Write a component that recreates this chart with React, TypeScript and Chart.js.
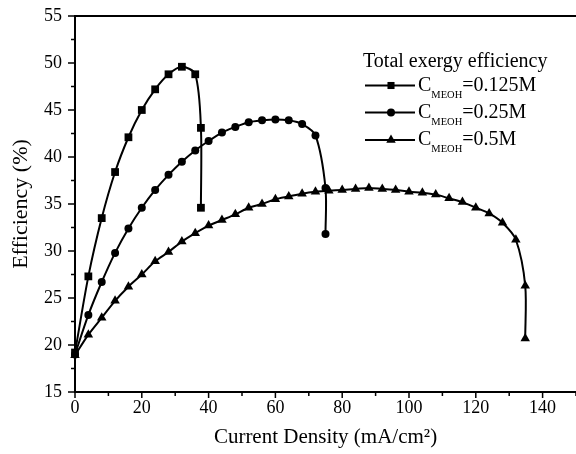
import React, { useEffect, useRef } from "react";
import { Chart, registerables } from "chart.js";

Chart.register(...registerables);

const FONT = "'Liberation Serif', 'Times New Roman', serif";

// Data
const xSq = [0, 4, 8, 12, 16, 20, 24, 28, 32, 36, 37.7, 37.7];
const ySq = [19.2, 27.3, 33.5, 38.4, 42.1, 45.0, 47.2, 48.8, 49.6, 48.8, 43.1, 34.6];

const xCi = [0, 4, 8, 12, 16, 20, 24, 28, 32, 36, 40, 44, 48, 52, 56, 60, 64, 68, 72, 75, 75];
const yCi = [19.0, 23.2, 26.7, 29.8, 32.4, 34.6, 36.5, 38.1, 39.5, 40.7, 41.7, 42.6, 43.2, 43.7, 43.9, 44.0, 43.9, 43.5, 42.3, 36.7, 31.8];

const xTr = [0, 4, 8, 12, 16, 20, 24, 28, 32, 36, 40, 44, 48, 52, 56, 60, 64, 68, 72, 76, 80, 84, 88, 92, 96, 100, 104, 108, 112, 116, 120, 124, 128, 132, 134.8, 134.8];
const yTr = [18.9, 21.1, 22.9, 24.7, 26.2, 27.5, 28.9, 29.9, 31.0, 31.9, 32.7, 33.3, 33.9, 34.6, 35.0, 35.5, 35.8, 36.1, 36.3, 36.4, 36.5, 36.6, 36.7, 36.6, 36.5, 36.3, 36.2, 36.0, 35.6, 35.2, 34.6, 34.0, 33.0, 31.2, 26.3, 20.7];

const legendTitle = "Total exergy efficiency";
const seriesConc = ["=0.125M", "=0.25M", "=0.5M"];
const seriesBase = "C";
const seriesSub = "MEOH";
const seriesStyles = ["rect", "circle", "triangle"];

const xTitle = "Current Density (mA/cm²)";
const yTitle = "Efficiency (%)";

function drawMarker(ctx: CanvasRenderingContext2D, style: string, x: number, y: number, r: number) {
  ctx.beginPath();
  if (style === "rect") {
    const s = Math.SQRT1_2 * r;
    ctx.rect(x - s, y - s, 2 * s, 2 * s);
  } else if (style === "circle") {
    ctx.arc(x, y, r, 0, Math.PI * 2);
  } else {
    ctx.moveTo(x, y - r);
    ctx.lineTo(x + Math.sin(Math.PI / 3) * r, y + r / 2);
    ctx.lineTo(x - Math.sin(Math.PI / 3) * r, y + r / 2);
    ctx.closePath();
  }
  ctx.fill();
}

const framePlugin = {
  id: "frameAndLegend",
  afterDraw(chart: any) {
    const ctx: CanvasRenderingContext2D = chart.ctx;
    const { left, right, top, bottom } = chart.chartArea;
    const xs = chart.scales.x;
    const ys = chart.scales.y;
    ctx.save();
    ctx.strokeStyle = "#000";
    ctx.fillStyle = "#000";
    // frame (right side lies outside the picture)
    ctx.lineWidth = 2;
    ctx.beginPath();
    ctx.moveTo(right + 4, top);
    ctx.lineTo(left, top);
    ctx.lineTo(left, bottom);
    ctx.lineTo(right + 4, bottom);
    ctx.stroke();
    // ticks
    ctx.lineWidth = 1.5;
    ctx.beginPath();
    xs.ticks.forEach((t: any) => {
      const v = t.value;
      if (v < 0 || v > 150) return;
      const px = xs.getPixelForValue(v);
      const major = Math.abs(v % 20) < 1e-6;
      ctx.moveTo(px, bottom);
      ctx.lineTo(px, bottom + (major ? 6 : 4));
    });
    ys.ticks.forEach((t: any) => {
      const v = t.value;
      const py = ys.getPixelForValue(v);
      const major = Math.abs(v % 5) < 1e-6;
      ctx.moveTo(left, py);
      ctx.lineTo(left - (major ? 7 : 4), py);
    });
    ctx.stroke();

    // legend
    ctx.textBaseline = "middle";
    ctx.textAlign = "left";
    ctx.font = `20px ${FONT}`;
    ctx.fillText(legendTitle, 363, 62);
    const rows = [85.5, 112.5, 140];
    seriesConc.forEach((conc, i) => {
      const y = rows[i];
      ctx.lineWidth = 2;
      ctx.beginPath();
      ctx.moveTo(365, y);
      ctx.lineTo(415, y);
      ctx.stroke();
      const st = seriesStyles[i];
      drawMarker(ctx, st, 391, y, st === "rect" ? 5 : st === "circle" ? 4 : 5.5);
      let x = 418;
      ctx.font = `20px ${FONT}`;
      ctx.fillText(seriesBase, x, y);
      x += ctx.measureText(seriesBase).width;
      ctx.font = `10.5px ${FONT}`;
      ctx.fillText(seriesSub, x, y + 9.5);
      x += ctx.measureText(seriesSub).width;
      ctx.font = `20px ${FONT}`;
      ctx.fillText(conc, x, y);
    });
    ctx.restore();
  },
};

const zeroPad = (s: any) => {
  s.paddingLeft = 0;
  s.paddingRight = 0;
  s.paddingTop = 0;
  s.paddingBottom = 0;
};

export default function App() {
  const ref = useRef<HTMLCanvasElement | null>(null);
  useEffect(() => {
    document.body.style.margin = "0";
    const canvas = ref.current!;
    const mk = (xv: number[], yv: number[], i: number) => ({
      label: seriesBase + "_" + seriesSub + seriesConc[i],
      data: xv.map((x, k) => ({ x, y: yv[k] })),
      borderColor: "#000",
      backgroundColor: "#000",
      borderWidth: 2,
      pointStyle: seriesStyles[i],
      pointRadius: seriesStyles[i] === "rect" ? 5.5 : seriesStyles[i] === "circle" ? 4 : 5.5,
      pointBorderWidth: 0,
      tension: 0.3,
      clip: false,
    });
    const chart = new Chart(canvas, {
      type: "scatter",
      data: {
        datasets: [mk(xSq, ySq, 0), mk(xCi, yCi, 1), mk(xTr, yTr, 2)] as any,
      },
      options: {
        responsive: false,
        animation: false,
        showLine: true,
        layout: { autoPadding: false, padding: { top: 16, right: -1.5, left: 0, bottom: 0 } },
        plugins: { legend: { display: false }, tooltip: { enabled: false } },
        scales: {
          x: {
            type: "linear",
            min: 0,
            max: 150,
            grid: { display: false, drawTicks: false },
            border: { display: false },
            ticks: {
              stepSize: 10,
              padding: 5,
              color: "#000",
              font: { family: FONT, size: 18 },
              maxRotation: 0,
              autoSkip: false,
              callback: (v: any) => (Math.abs(v % 20) < 1e-6 && v <= 140 ? String(v) : ""),
            },
            title: {
              display: true,
              text: xTitle,
              color: "#000",
              font: { family: FONT, size: 21 },
              padding: { top: 4, bottom: 4 },
            },
            afterFit: (s: any) => {
              s.height = 62;
              zeroPad(s);
            },
          },
          y: {
            type: "linear",
            min: 15,
            max: 55,
            grid: { display: false, drawTicks: false },
            border: { display: false },
            ticks: {
              stepSize: 2.5,
              padding: 13,
              color: "#000",
              font: { family: FONT, size: 18 },
              autoSkip: false,
              callback: (v: any) => (Math.abs(v % 5) < 1e-6 ? String(v) : ""),
            },
            title: {
              display: true,
              text: yTitle,
              color: "#000",
              font: { family: FONT, size: 22 },
              padding: { top: 8, bottom: 4 },
            },
            afterFit: (s: any) => {
              s.width = 75;
              zeroPad(s);
            },
          },
        },
      },
      plugins: [framePlugin],
    });
    return () => chart.destroy();
  }, []);
  return <canvas ref={ref} width={576} height={454} style={{ display: "block" }} />;
}
